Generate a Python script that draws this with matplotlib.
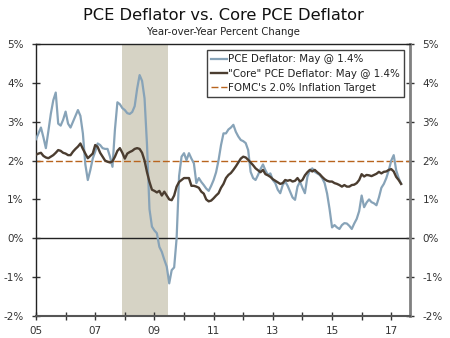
import matplotlib
matplotlib.use("Agg")
import matplotlib.pyplot as plt
import numpy as np

# ---- data (monthly, Jan 2005 - May 2017) ----
pce = [
    2.55, 2.70, 2.85, 2.60, 2.32, 2.75, 3.20, 3.55, 3.75, 2.95, 2.90, 3.05,   # 2005
    3.26, 2.95, 2.85, 3.00, 3.15, 3.30, 3.15, 2.70, 1.90, 1.50, 1.75, 2.05,   # 2006
    2.23, 2.44, 2.40, 2.32, 2.30, 2.30, 2.10, 1.84, 2.80, 3.50, 3.45, 3.35,   # 2007
    3.30, 3.22, 3.20, 3.25, 3.40, 3.85, 4.20, 4.05, 3.60, 2.40, 0.75, 0.30,   # 2008
    0.20, 0.13, -0.22, -0.35, -0.55, -0.73, -1.16, -0.82, -0.75, 0.00, 1.60, 2.10,  # 2009
    2.19, 2.01, 2.19, 2.05, 1.93, 1.42, 1.55, 1.45, 1.37, 1.28, 1.22, 1.35,   # 2010
    1.50, 1.70, 2.01, 2.40, 2.70, 2.70, 2.80, 2.85, 2.92, 2.74, 2.62, 2.53,   # 2011
    2.50, 2.45, 2.27, 1.71, 1.55, 1.50, 1.63, 1.78, 1.90, 1.75, 1.63, 1.67,   # 2012
    1.50, 1.42, 1.25, 1.16, 1.37, 1.46, 1.35, 1.20, 1.05, 0.99, 1.33, 1.46,   # 2013
    1.30, 1.16, 1.58, 1.75, 1.80, 1.71, 1.67, 1.63, 1.55, 1.42, 1.15, 0.75,   # 2014
    0.28, 0.34, 0.28, 0.24, 0.34, 0.39, 0.38, 0.32, 0.24, 0.38, 0.50, 0.70,   # 2015
    1.10, 0.80, 0.92, 1.00, 0.93, 0.90, 0.85, 1.05, 1.30, 1.40, 1.55, 1.75,   # 2016
    2.00, 2.14, 1.75, 1.55, 1.40,                                             # 2017
]
core = [
    2.15, 2.18, 2.20, 2.12, 2.08, 2.06, 2.10, 2.14, 2.20, 2.27, 2.25, 2.20,   # 2005
    2.18, 2.14, 2.14, 2.23, 2.30, 2.36, 2.44, 2.30, 2.18, 2.06, 2.12, 2.18,   # 2006
    2.40, 2.35, 2.20, 2.10, 2.00, 1.97, 1.95, 1.98, 2.10, 2.25, 2.32, 2.20,   # 2007
    2.05, 2.18, 2.22, 2.25, 2.30, 2.32, 2.30, 2.20, 2.00, 1.70, 1.45, 1.25,   # 2008
    1.22, 1.18, 1.22, 1.10, 1.20, 1.10, 1.00, 0.98, 1.10, 1.33, 1.45, 1.50,   # 2009
    1.55, 1.55, 1.55, 1.35, 1.35, 1.33, 1.30, 1.20, 1.15, 1.00, 0.95, 0.97,   # 2010
    1.03, 1.10, 1.16, 1.30, 1.40, 1.55, 1.63, 1.68, 1.76, 1.85, 1.95, 2.05,   # 2011
    2.10, 2.08, 2.02, 1.95, 1.88, 1.80, 1.75, 1.70, 1.76, 1.65, 1.62, 1.58,   # 2012
    1.52, 1.48, 1.44, 1.40, 1.42, 1.50, 1.48, 1.50, 1.46, 1.48, 1.55, 1.46,   # 2013
    1.50, 1.62, 1.70, 1.76, 1.72, 1.76, 1.70, 1.65, 1.58, 1.52, 1.48, 1.46,   # 2014
    1.46, 1.42, 1.40, 1.37, 1.33, 1.37, 1.33, 1.33, 1.37, 1.38, 1.42, 1.50,   # 2015
    1.65, 1.59, 1.63, 1.62, 1.60, 1.63, 1.66, 1.71, 1.67, 1.71, 1.72, 1.76,   # 2016
    1.78, 1.72, 1.58, 1.50, 1.40,                                             # 2017
]
start_year = 2005
target = 2.0
recession = (2007 + 11/12, 2009 + 5.6/12)
yticks = [-2, -1, 0, 1, 2, 3, 4, 5]

t = start_year + np.arange(len(pce)) / 12.0

fig = plt.figure(figsize=(4.5, 3.38), dpi=100)
ax = fig.add_axes([36/450, 1 - 316/338, 374/450, 272/338])

ax.axvspan(recession[0], recession[1], color="#d6d3c5", lw=0, zorder=0)
ax.axhline(0, color="#222222", lw=1.0, zorder=1)
tl = ax.axhline(target, color="#b8641e", lw=1.0, ls=(0, (5, 2)), zorder=2,
                label="FOMC's 2.0% Inflation Target")
l1, = ax.plot(t, pce, color="#87a3b8", lw=1.6, zorder=3, label="PCE Deflator: May @ 1.4%")
l2, = ax.plot(t, core, color="#4b3d30", lw=1.7, zorder=4, label='"Core" PCE Deflator: May @ 1.4%')

ax.set_xlim(2005, 2017 + 7.6/12)
ax.set_ylim(-2, 5)

ax.set_yticks(yticks)
ax.set_yticklabels([f"{v}%" for v in yticks])
ax.tick_params(axis="y", which="both", direction="out", length=4, width=1,
               labelsize=7.5, colors="#333333", left=True, right=True,
               labelleft=True, labelright=True, pad=6)
ax.tick_params(axis="y", which="major", right=True, direction="inout", length=6)

years = np.arange(2005, 2018)
ax.set_xticks(years)
ax.set_xticklabels([f"{y % 100:02d}" if (y % 2 == 1) else "" for y in years])
ax.tick_params(axis="x", direction="inout", length=6, width=1, labelsize=7.5,
               colors="#333333", pad=4)

for s in ["left", "top"]:
    ax.spines[s].set_color("#222222")
    ax.spines[s].set_linewidth(1.0)
ax.spines["bottom"].set_color("#555555")
ax.spines["bottom"].set_linewidth(1.5)
ax.spines["right"].set_color("#808080")
ax.spines["right"].set_linewidth(2.0)

handles = [l1, l2, tl]
leg = ax.legend(handles=handles, loc="upper right", bbox_to_anchor=(0.99, 0.985),
                fontsize=7.4, frameon=True, fancybox=False, edgecolor="#111111",
                handlelength=1.5, handletextpad=0.15, borderpad=0.4,
                labelspacing=0.42, borderaxespad=0.2)
leg.get_frame().set_linewidth(1.0)
for txt in leg.get_texts():
    txt.set_color("#222222")

fig.text(0.497, 0.955, "PCE Deflator vs. Core PCE Deflator", ha="center", va="center",
         fontsize=11.7, color="#111111")
fig.text(0.497, 0.905, "Year-over-Year Percent Change", ha="center", va="center",
         fontsize=7.3, color="#222222")

fig.savefig("out.png", dpi=100)
